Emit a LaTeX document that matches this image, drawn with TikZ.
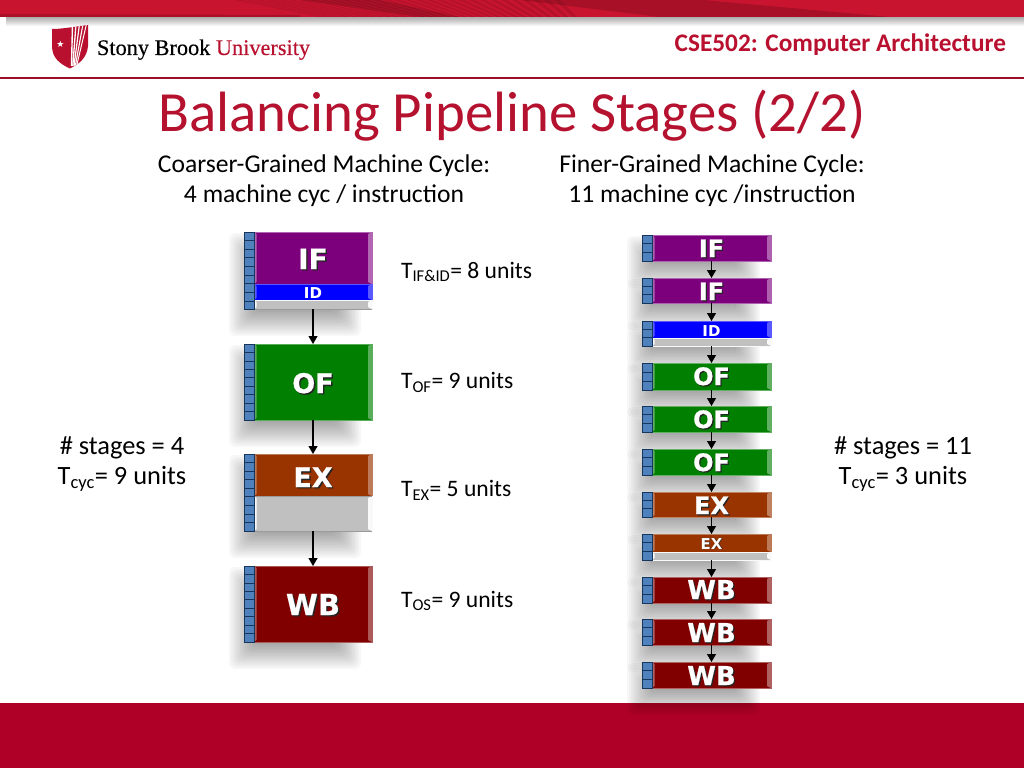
\documentclass[tikz,border=0pt]{standalone}
\usepackage{fontspec}
\setmainfont{Carlito}
\newfontfamily\labelfont{DejaVu Sans Bold}[FakeBold=0.6]
\newfontfamily\labelthin{DejaVu Sans Bold}
\newfontfamily\logofont{Liberation Serif}[FakeBold=0.25]
\definecolor{sbred}{HTML}{B8102E}
\definecolor{titlered}{HTML}{B5122F}
\definecolor{bandred}{HTML}{C8142F}
\definecolor{footred}{HTML}{AF0027}
\definecolor{regblue}{HTML}{4F81BD}
\definecolor{regline}{HTML}{17365D}
\definecolor{cIF}{HTML}{7C007C}
\definecolor{cID}{HTML}{0000FF}
\definecolor{cOF}{HTML}{007F00}
\definecolor{cEX}{HTML}{993300}
\definecolor{cWB}{HTML}{800000}
\definecolor{cGR}{HTML}{C0C0C0}
\newcommand\fs[1]{\fontsize{#1pt}{#1pt}\selectfont}
\newcommand\shadowed[2]{\rlap{\kern#2pt\raisebox{-#2pt}{\color{black!85}#1}}#1}
\usetikzlibrary{arrows.meta}
\tikzset{
  x=1pt,y=-1pt,
  txt/.style={inner sep=0pt,outer sep=0pt,anchor=base,text=black},
  txtw/.style={txt,anchor=base west},
  flow/.style={draw=black,line width=1.1pt,-{Stealth[length=8pt,width=9pt,inset=0pt]}},
  stagefull/.style={inner sep=0pt,outer sep=0pt,anchor=north west},
  stagelabel/.style={inner sep=0pt,outer sep=0pt,text=white,anchor=base},
}
% x0 ytop ybottom x1
\newcommand\softshadow[4]{%
  \foreach \k in {0,...,11}{%
    \pgfmathsetmacro\d{13-2.2*\k}%
    \fill[black,opacity=.032,rounded corners=6pt] ({#1-12-\d},{#2+14-\d}) rectangle ({#4-24+\d},{#3+14+\d});
  }}
% x0 ytop ybot x1 colour light
\newcommand\bevelpart[6]{%
  \fill[#5] (#1,#2) rectangle (#4,#3);
  \fill[#6] (#1,#2) -- (#1+2.5,#2+2) -- (#1+2.5,#3-2) -- (#1,#3) -- cycle;
  \fill[#6] (#4,#2) -- (#4-4,#2+2) -- (#4-4,#3-2) -- (#4,#3) -- cycle;
  \draw[#6,line width=.7pt] (#1,#2) rectangle (#4,#3);
}
% x ytop ybot cells
\newcommand\regstack[4]{%
  \fill[regblue] (#1,#2) rectangle (#1+10,#3);
  \pgfmathsetmacro\h{(#3-#2)/#4}%
  \foreach \c in {1,...,#4}{\draw[regline,line width=.7pt] (#1,{#2+\c*\h}) -- (#1+10,{#2+\c*\h});}
  \draw[regline,line width=1pt] (#1,#2) rectangle (#1+10,#3);
}
\begin{document}
\begin{tikzpicture}
\useasboundingbox (0,0) rectangle (1024,768);
\fill[white] (0,0) rectangle (1024,768);
% header shadow
\foreach \k in {0,...,8}{\fill[black,opacity=.04] (6,17) rectangle (1024,{26-\k});}
% header band
\begin{scope}
\clip (0,0) rectangle (1024,17);
\fill[bandred] (0,0) rectangle (1024,17);
\foreach \a in {0,2,...,60}{
  \fill[black,opacity=.09] (640,80) -- ({640-(\a)*6-90},-10) -- ({640-(\a+1)*6-90},-10) -- cycle;
}
\fill[black,opacity=.14] (300,0) -- (380,0) -- (460,17) -- (420,17) -- cycle;
\fill[black,opacity=.16] (520,0) -- (703,0) -- (890,17) -- (660,17) -- cycle;
\fill[black,opacity=.15] (0,14) -- (300,15) -- (300,17) -- (0,17) -- cycle;
\end{scope}
% header rule and foot
\fill[sbred!85!black] (0,77.3) rectangle (1024,78.5);
\fill[footred] (0,703) rectangle (1024,768);
% logo
\begin{scope}
\clip (52,29) .. controls (62,29) and (72,27) .. (88,25) -- (88,46) .. controls (87,58) and (79,64) .. (70,68.5) .. controls (60,64) and (52,58) .. (52,46) -- cycle;
\fill[sbred] (50,23) rectangle (90,70);
\foreach \tx/\bx/\w in {72.5/71.5/1.4,76/72.8/1.3,79.5/74/1.2,83/75.3/1.1,86.5/76.6/1.0}{
  \draw[white,line width=\w pt] (\tx,24) -- (\bx,66);
}
\end{scope}
\node[inner sep=0pt,text=white,font=\labelthin\fs{9}] (star) at (60.5,44) {★};
\node[txtw,font=\logofont\fs{22.3}] (logotext) at (97,55) {Stony Brook {\color{sbred}University}};
\node[txt,anchor=base east,text=sbred,font=\bfseries\fs{25.3}] (course) at (1006,52) {CSE502: Computer Architecture};
% title
\node[txt,text=titlered,font=\fs{56.8}] (title) at (512,131) {Balancing Pipeline Stages (2/2)};
% subheads
\node[txt,font=\fs{25.6}] (sub1a) at (324,172) {Coarser-Grained Machine Cycle:};
\node[txt,font=\fs{25.6}] (sub1b) at (324,202) {4 machine cyc / instruction};
\node[txt,font=\fs{25.6}] (sub2a) at (712,172) {Finer-Grained Machine Cycle:};
\node[txt,font=\fs{25.6}] (sub2b) at (712,202) {11 machine cyc /instruction};
% side text
\node[txt,font=\fs{26.4}] (sl1) at (122,454) {\# stages = 4};
\node[txt,font=\fs{26.4}] (sl2) at (122,484.5) {T\textsubscript{cyc}= 9 units};
\node[txt,font=\fs{26.4}] (sr1) at (903,454) {\# stages = 11};
\node[txt,font=\fs{26.4}] (sr2) at (903,484.5) {T\textsubscript{cyc}= 3 units};
\node[txtw,font=\fs{23.6}] (t1) at (401,278) {T\textsubscript{IF\&ID}= 8 units};
\node[txtw,font=\fs{23.6}] (t2) at (401,388.5) {T\textsubscript{OF}= 9 units};
\node[txtw,font=\fs{23.6}] (t3) at (401,496.5) {T\textsubscript{EX}= 5 units};
\node[txtw,font=\fs{23.6}] (t4) at (401,607) {T\textsubscript{OS}= 9 units};
% shadows
\softshadow{254}{232}{309}{372}
\softshadow{254}{344}{420}{372}
\softshadow{254}{454}{531}{372}
\softshadow{254}{566}{642}{372}
\foreach \a/\b in {235/261,278/303,321/346,363/390,406/432,449/475,492/517,534/560,577/603,619/645,662/688}{
  \softshadow{652}{\a}{\b}{771}
}
% left column
\bevelpart{254}{232}{284}{372}{cIF}{cIF!60!white}
\bevelpart{254}{284}{300}{372}{cID}{cID!65!white}
\bevelpart{254}{300}{309}{372}{cGR}{white!90!cGR}
\draw[cGR!80!black,line width=.6pt] (254,309) -- (372,309);
\regstack{244}{232}{309.5}{9}
\node[stagefull,minimum width=118pt,minimum height=77pt] (lif) at (254,232) {};
\node[stagelabel,font=\labelfont\fs{28}] (lifL) at (313,269) {\shadowed{IF}{1.4}};
\node[stagelabel,font=\labelthin\fs{15}] (lidL) at (313,298) {ID};

\bevelpart{254}{344}{420}{372}{cOF}{cOF!65!white}
\regstack{244}{344}{420}{9}
\node[stagefull,minimum width=118pt,minimum height=76pt] (lof) at (254,344) {};
\node[stagelabel,font=\labelfont\fs{27}] (lofL) at (313,393) {\shadowed{OF}{1.4}};

\bevelpart{254}{454}{496}{372}{cEX}{cEX!65!white}
\bevelpart{254}{496}{531}{372}{cGR}{white!90!cGR}
\draw[cGR!80!black,line width=.6pt] (254,531) -- (372,531) (254,496) -- (372,496);
\regstack{244}{454}{531}{9}
\node[stagefull,minimum width=118pt,minimum height=77pt] (lex) at (254,454) {};
\node[stagelabel,font=\labelfont\fs{27}] (lexL) at (313,487) {\shadowed{EX}{1.4}};

\bevelpart{254}{566}{642}{372}{cWB}{cWB!65!white}
\regstack{244}{566}{642}{9}
\node[stagefull,minimum width=118pt,minimum height=76pt] (lwb) at (254,566) {};
\node[stagelabel,font=\labelfont\fs{29}] (lwbL) at (313,615) {\shadowed{WB}{1.4}};

\draw[flow] (lif.south) -- (lof.north);
\draw[flow] (lof.south) -- (lex.north);
\draw[flow] (lex.south) -- (lwb.north);

% right column
\foreach \n/\a/\b/\c/\t/\s/\base in {
  rif1/235/261/cIF/IF/24/257,
  rif2/278/303/cIF/IF/24/300,
  rof1/363/390/cOF/OF/24/385,
  rof2/406/432/cOF/OF/24/428,
  rof3/449/475/cOF/OF/24/471,
  rex1/492/517/cEX/EX/24/514,
  rwb1/577/603/cWB/WB/26/599,
  rwb2/619/645/cWB/WB/26/642,
  rwb3/662/688/cWB/WB/26/685}{
  \bevelpart{652}{\a}{\b}{771}{\c}{\c!62!white}
  \regstack{642}{\a}{\b}{3}
  \pgfmathsetmacro\hh{\b-\a}
  \node[stagefull,minimum width=119pt,minimum height=\hh pt] (\n) at (652,\a) {};
  \node[stagelabel,font=\labelfont\fs{\s}] (\n L) at (711.5,\base) {\shadowed{\t}{1.2}};
}
\bevelpart{652}{321}{338}{771}{cID}{cID!65!white}
\bevelpart{652}{338}{346}{771}{cGR}{white!90!cGR}
\regstack{642}{321}{346}{3}
\node[stagefull,minimum width=119pt,minimum height=25pt] (rid) at (652,321) {};
\node[stagelabel,font=\labelthin\fs{15}] (ridL) at (711.5,336) {ID};
\bevelpart{652}{534}{552}{771}{cEX}{cEX!65!white}
\bevelpart{652}{552}{560}{771}{cGR}{white!90!cGR}
\regstack{642}{534}{560}{3}
\node[stagefull,minimum width=119pt,minimum height=26pt] (rex2) at (652,534) {};
\node[stagelabel,font=\labelthin\fs{15}] (rex2L) at (711.5,549) {\shadowed{EX}{.8}};

\foreach \p/\q in {rif1/rif2,rif2/rid,rid/rof1,rof1/rof2,rof2/rof3,rof3/rex1,rex1/rex2,rex2/rwb1,rwb1/rwb2,rwb2/rwb3}{
  \draw[flow] (\p.south) -- (\q.north);
}
\end{tikzpicture}
\end{document}
